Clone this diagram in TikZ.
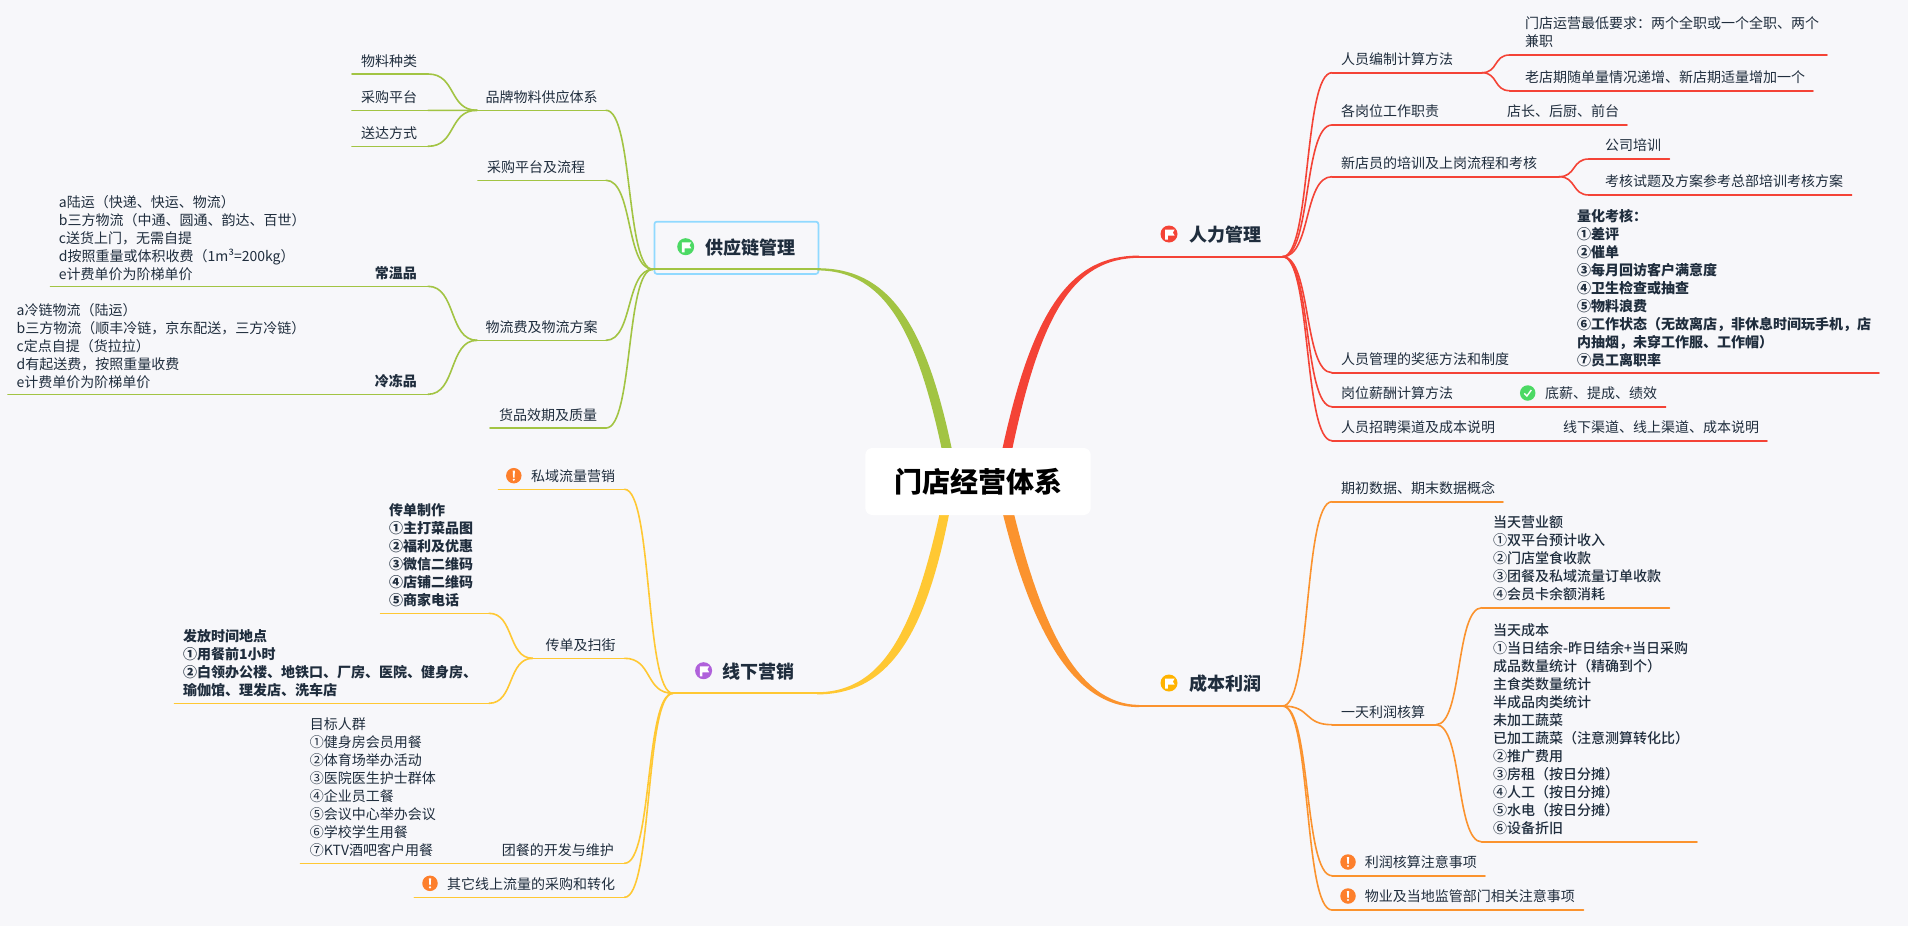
\documentclass[tikz,border=0pt]{standalone}
\usepackage{fontspec}
\usetikzlibrary{calc}
\setmainfont{Noto Sans CJK SC}
\newfontfamily\medf{Noto Sans CJK SC Medium}
\definecolor{bgc}{HTML}{F7F7FA}
\definecolor{ink}{HTML}{1F2D3D}
\definecolor{cred}{HTML}{F44336}
\definecolor{cgreen}{HTML}{A2C443}
\definecolor{cyellow}{HTML}{FFC833}
\definecolor{corange}{HTML}{FB932E}
\definecolor{selc}{HTML}{90D9FF}
\definecolor{warnc}{HTML}{FD7F2C}
\definecolor{okc}{HTML}{4CD964}
\definecolor{amberc}{HTML}{FFB300}
\definecolor{purplec}{HTML}{B061DB}
\colorlet{br}{cred}
\tikzset{
  link/.style={draw=br,line width=1.6pt,line cap=round},
  mainlink/.style={draw=br,line width=2.2pt,line cap=round},
  lab/.style={anchor=west,yshift=-2.2pt,inner sep=0pt,align=left,text=ink,font=\fontsize{14}{18}\selectfont},
  labm/.style={lab,font=\fontsize{14}{18}\selectfont\medf},
  labb/.style={lab,font=\fontsize{14}{18}\selectfont\bfseries},
  title/.style={anchor=west,yshift=-1pt,inner sep=0pt,text=ink,font=\fontsize{18}{22}\selectfont\bfseries},
  iconb/.style={circle,inner sep=0pt,minimum size=#1}
}
\newcommand\ul[4]{\coordinate (#1L) at (#2,#4);\coordinate (#1R) at (#3,#4);\draw[link] (#1L) -- (#1R);}
\newcommand\mainul[4]{\coordinate (#1L) at (#2,#4);\coordinate (#1R) at (#3,#4);\draw[mainlink] (#1L) -- (#1R);}
\newcommand\conn[2]{\draw[link] (#1) .. controls ($(#1)!.58!(#2|-#1)$) and ($(#2)!.58!(#1|-#2)$) .. (#2);}
\newcommand\tx[4]{\node[lab] (#1) at (#2,#3) {\strut #4\strut};}
\newcommand\txm[4]{\node[labm] (#1) at (#2,#3) {\strut #4\strut};}
\newcommand\txb[4]{\node[labb] (#1) at (#2,#3) {\strut #4\strut};}
\newcommand\ttl[4]{\node[title] (#1) at (#2,#3) {#4};}
\newcommand\flagicon[4]{%
  \node[iconb=17pt,fill=#4] (#1) at (#2,#3) {};
  \fill[white] ($(#1)+(-3.8,-4.4)$) -- ($(#1)+(5.6,-4.4)$) -- ($(#1)+(3.8,-1.4)$) -- ($(#1)+(5.6,1.6)$) -- ($(#1)+(-1.2,1.6)$) -- ($(#1)+(-1.2,5.6)$) -- ($(#1)+(-3.8,5.6)$) -- cycle;}
\newcommand\warn[3]{%
  \node[iconb=15.5pt,fill=warnc] (#1) at (#2,#3) {};
  \fill[white] ($(#1)+(-1.1,-5)$) -- ($(#1)+(1.1,-5)$) -- ($(#1)+(.7,1.8)$) -- ($(#1)+(-.7,1.8)$) -- cycle;
  \fill[white] ($(#1)+(0,4)$) circle (1.2);}
\newcommand\okicon[3]{%
  \node[iconb=15.5pt,fill=okc] (#1) at (#2,#3) {};
  \draw[white,line width=1.4pt] ($(#1)+(-3.4,.4)$) -- ($(#1)+(-.8,3)$) -- ($(#1)+(3.6,-3)$);}
\begin{document}
\begin{tikzpicture}[x=1pt,y=-1pt]
\useasboundingbox (0,0) rectangle (1908,926);
\fill[bgc] (0,0) rectangle (1908,926);
\coordinate (ctr) at (978,481.5);

%%% ---------- 人力管理
\colorlet{br}{cred}
\mainul{hr}{1139}{1282.6}{256.7}
\fill[br] ($(ctr)+(20,-11.5)$) .. controls (1030,309) and (1070,255.5) .. ($(hrL)+(0,-1.1)$) -- ($(hrL)+(0,1.1)$) .. controls (1073,258.5) and (1039,312) .. ($(ctr)+(30,-11.5)$) -- cycle;
\flagicon{hri}{1169}{234}{cred}
\ttl{hrt}{1189.5}{234}{人力管理}
\ul{a}{1332}{1482}{72.7}\conn{hrR}{aL}
\tx{at}{1341}{59}{人员编制计算方法}
\ul{aa}{1509.6}{1827}{55}\conn{aR}{aaL}
\tx{aat}{1525}{32}{门店运营最低要求：两个全职或一个全职、两个\\兼职}
\ul{ab}{1509.6}{1813}{90.7}\conn{aR}{abL}
\tx{abt}{1525}{77}{老店期随单量情况递增、新店期适量增加一个}
\ul{b}{1332}{1627}{125}\conn{hrR}{bL}
\tx{bt}{1341}{111}{各岗位工作职责}
\tx{bbt}{1507}{111}{店长、后厨、前台}
\ul{c}{1332}{1559}{176.7}\conn{hrR}{cL}
\tx{ct}{1341}{163}{新店员的培训及上岗流程和考核}
\ul{ca}{1589}{1669.4}{159}\conn{cR}{caL}
\tx{cat}{1605}{145}{公司培训}
\ul{cb}{1589}{1851.6}{195}\conn{cR}{cbL}
\tx{cbt}{1605}{181}{考核试题及方案参考总部培训考核方案}
\ul{d}{1332}{1879}{372.7}\conn{hrR}{dL}
\tx{dt}{1341}{359}{人员管理的奖惩方法和制度}
\txb{ddt}{1577}{287.3}{量化考核：\\①差评\\②催单\\③每月回访客户满意度\\④卫生检查或抽查\\⑤物料浪费\\⑥工作状态（无故离店，非休息时间玩手机，店\\内抽烟，未穿工作服、工作帽）\\⑦员工离职率}
\ul{e}{1332}{1665.6}{406.7}\conn{hrR}{eL}
\tx{et}{1341}{393}{岗位薪酬计算方法}
\okicon{ei}{1527.7}{393}
\tx{eet}{1545}{393}{底薪、提成、绩效}
\ul{f}{1332}{1767}{440.7}\conn{hrR}{fL}
\tx{ft}{1341}{427}{人员招聘渠道及成本说明}
\tx{fft}{1563}{427}{线下渠道、线上渠道、成本说明}

%%% ---------- 成本利润
\colorlet{br}{corange}
\mainul{cp}{1139}{1282.6}{706}
\fill[br] ($(ctr)+(20,11.5)$) .. controls (1028,627) and (1072,707.5) .. ($(cpL)+(0,1.1)$) -- ($(cpL)+(0,-1.1)$) .. controls (1076,704.5) and (1039,623) .. ($(ctr)+(31,11.5)$) -- cycle;
\flagicon{cpi}{1169}{683}{amberc}
\ttl{cpt}{1189.5}{683}{成本利润}
\ul{g}{1332}{1503}{501.7}\conn{cpR}{gL}
\tx{gt}{1341}{488}{期初数据、期末数据概念}
\ul{h}{1332}{1436}{724.7}\conn{cpR}{hL}
\tx{ht}{1341}{711.5}{一天利润核算}
\ul{ha}{1482}{1669.4}{607.7}\conn{hR}{haL}
\txm{hat}{1493}{557.7}{当天营业额\\①双平台预计收入\\②门店堂食收款\\③团餐及私域流量订单收款\\④会员卡余额消耗}
\ul{hb}{1482}{1697}{842}\conn{hR}{hbL}
\txm{hbt}{1493}{729}{当天成本\\①当日结余-昨日结余+当日采购\\成品数量统计（精确到个）\\主食类数量统计\\半成品肉类统计\\未加工蔬菜\\已加工蔬菜（注意测算转化比）\\②推广费用\\③房租（按日分摊）\\④人工（按日分摊）\\⑤水电（按日分摊）\\⑥设备折旧}
\ul{i}{1332}{1485}{875.7}\conn{cpR}{iL}
\warn{ii}{1348}{862}
\tx{it}{1364.6}{862}{利润核算注意事项}
\ul{j}{1332}{1583.5}{910}\conn{cpR}{jL}
\warn{ji}{1348}{896}
\tx{jt}{1364.6}{896}{物业及当地监管部门相关注意事项}

%%% ---------- 供应链管理
\colorlet{br}{cgreen}
\node[draw=selc,line width=1.7pt,rounded corners=2.5pt,inner sep=0pt,minimum width=164pt,minimum height=52.3pt] (scbox) at (736.4,247.8) {};
\mainul{sc}{652.8}{817}{269.3}
\fill[br] ($(ctr)+(-32,-11.5)$) .. controls (919,332) and (886,270.5) .. ($(scR)+(0,1.1)$) -- ($(scR)+(0,-1.1)$) .. controls (892,268) and (929,328) .. ($(ctr)+(-22,-11.5)$) -- cycle;
\flagicon{sci}{685.7}{246.7}{okc}
\ttl{sct}{705}{246.7}{供应链管理}
\ul{k}{477}{606}{110.3}\conn{scL}{kR}
\tx{kt}{485.5}{97}{品牌物料供应体系}
\ul{ka}{352}{428}{74}\conn{kL}{kaR}
\tx{kat}{361}{61}{物料种类}
\ul{kb}{352}{428}{110.3}\conn{kL}{kbR}
\tx{kbt}{361}{97}{采购平台}
\ul{kc}{352}{428}{146.3}\conn{kL}{kcR}
\tx{kct}{361}{133}{送达方式}
\ul{l}{478}{606}{180.3}\conn{scL}{lR}
\tx{lt}{487}{167}{采购平台及流程}
\ul{m}{477}{606}{340.3}\conn{scL}{mR}
\tx{mt}{485.5}{327}{物流费及物流方案}
\ul{ma}{50.5}{428}{286.3}\conn{mL}{maR}
\tx{malist}{58.7}{237.3}{a陆运（快递、快运、物流）\\b三方物流（中通、圆通、韵达、百世）\\c送货上门，无需自提\\d按照重量或体积收费（1m³=200kg）\\e计费单价为阶梯单价}
\node[labb,anchor=east] (mat) at (417,273) {\strut 常温品\strut};
\ul{mb}{8}{428}{394.3}\conn{mL}{mbR}
\tx{mblist}{16.5}{345.3}{a冷链物流（陆运）\\b三方物流（顺丰冷链，京东配送，三方冷链）\\c定点自提（货拉拉）\\d有起送费，按照重量收费\\e计费单价为阶梯单价}
\node[labb,anchor=east] (mbt) at (417,381) {\strut 冷冻品\strut};
\ul{n}{490}{606}{428}\conn{scL}{nR}
\tx{nt}{499}{415}{货品效期及质量}

%%% ---------- 线下营销
\colorlet{br}{cyellow}
\mainul{of}{673}{817}{693.3}
\fill[br] ($(ctr)+(-34,11.5)$) .. controls (917,624) and (886,692) .. ($(ofR)+(0,-1.1)$) -- ($(ofR)+(0,1.1)$) .. controls (892,694.5) and (929,630) .. ($(ctr)+(-25,11.5)$) -- cycle;
\flagicon{ofi}{703.6}{670.7}{purplec}
\ttl{oft}{722.4}{670.7}{线下营销}
\ul{p}{498.5}{624.5}{489.3}\conn{ofL}{pR}
\warn{pi}{513.8}{475.7}
\tx{pt}{531}{476}{私域流量营销}
\ul{q}{532.7}{624.5}{658.3}\conn{ofL}{qR}
\tx{qt}{545.4}{645}{传单及扫街}
\ul{qa}{380.6}{489}{613.3}\conn{qL}{qaR}
\txb{qat}{388.8}{555}{传单制作\\①主打菜品图\\②福利及优惠\\③微信二维码\\④店铺二维码\\⑤商家电话}
\ul{qb}{174.5}{489}{703.3}\conn{qL}{qbR}
\txb{qbt}{183}{663}{发放时间地点\\①用餐前1小时\\②白领办公楼、地铁口、厂房、医院、健身房、\\瑜伽馆、理发店、洗车店}
\ul{r}{300.5}{624.5}{863.3}\conn{ofL}{rR}
\tx{rlist}{309.7}{787}{目标人群\\①健身房会员用餐\\②体育场举办活动\\③医院医生护士群体\\④企业员工餐\\⑤会议中心举办会议\\⑥学校学生用餐\\⑦KTV酒吧客户用餐}
\node[lab,anchor=east] (rt) at (614,850) {\strut 团餐的开发与维护\strut};
\ul{s}{414.3}{624.5}{897.3}\conn{ofL}{sR}
\warn{si}{430}{883.3}
\tx{st}{447}{883.5}{其它线上流量的采购和转化}

%%% ---------- centre
\node[fill=white,rounded corners=7pt,minimum width=225.4pt,minimum height=67pt,inner sep=0pt,text=black,font=\fontsize{28}{32}\selectfont\bfseries] (centre) at (ctr) {门店经营体系};
\end{tikzpicture}
\end{document}
